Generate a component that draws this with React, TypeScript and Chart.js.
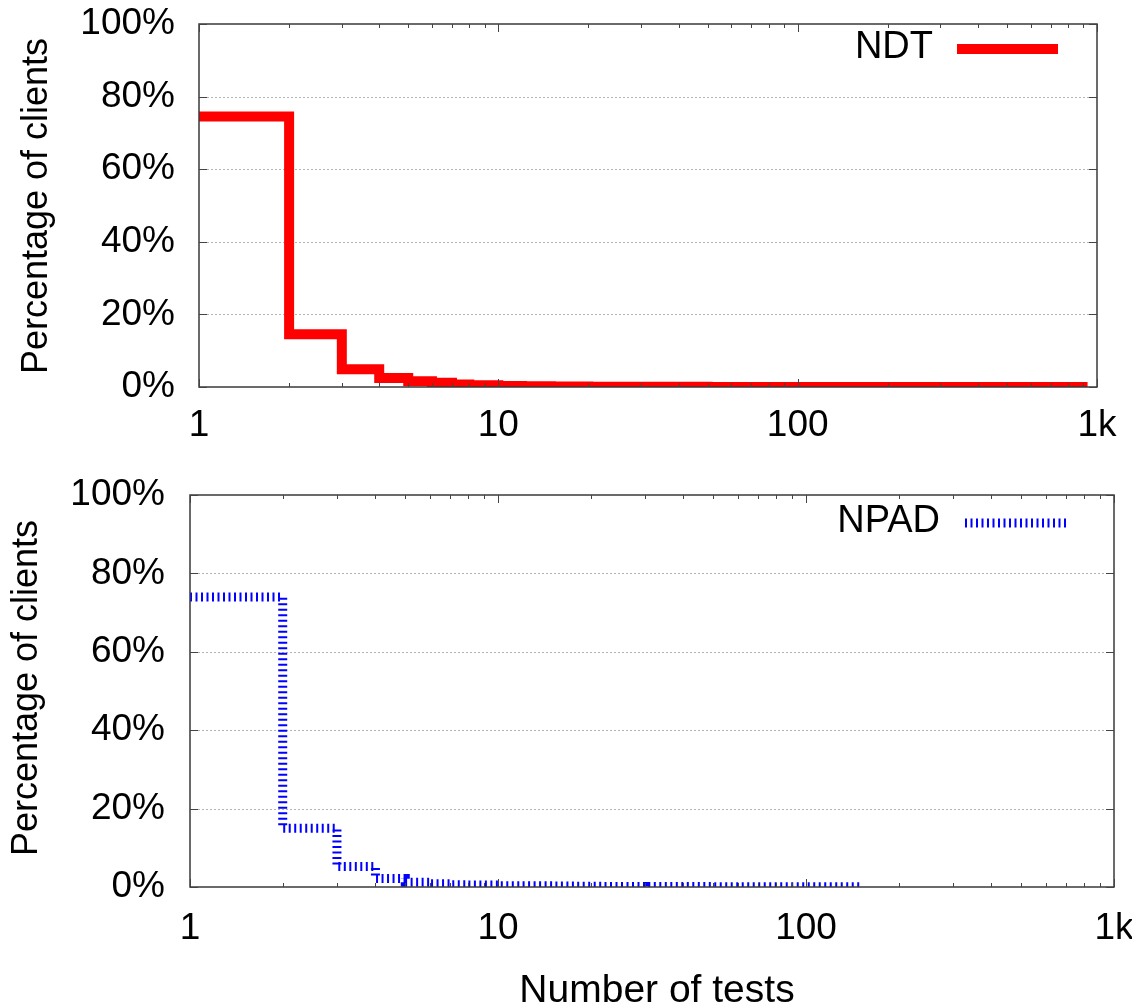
import React, { useEffect, useRef } from "react";
import { Chart, registerables } from "chart.js";

Chart.register(...registerables);

// ---- data ----
const ndtTests = [1, 2, 3, 4, 5, 6, 7, 8, 10, 12, 15, 20, 30, 50, 100, 930];
const ndtPct = [74.5, 14.5, 4.9, 2.5, 1.6, 1.15, 0.7, 0.5, 0.25, 0.2, 0.15, 0.1, 0.05, 0.03, 0.01, 0.01];

const npadTests = [1, 2, 3, 4, 5, 6, 7, 8, 10, 12, 15, 18, 22, 30, 50, 150];
const npadPct = [74, 15, 5.2, 2.2, 1.2, 0.8, 0.6, 0.5, 0.35, 0.3, 0.25, 0.2, 0.15, 0.1, 0.08, 0.08];

const xTickValues = [1, 10, 100, 1000];
const xTickLabels = ["1", "10", "100", "1k"];
const yTickValues = [0, 20, 40, 60, 80, 100];
const yGridValues = [20, 40, 60, 80];

const seriesNames = ["NDT", "NPAD"];
const yAxisTitle = "Percentage of clients";
const xAxisTitle = "Number of tests";

const FONT = "'Liberation Sans', Arial, Helvetica, sans-serif";
const W = 1132;

type Panel = {
  top: number;
  H: number;
  L: number;
  R: number;
  T: number;
  B: number;
  xs: number[];
  ys: number[];
  name: string;
  color: string;
  lw: number;
  dash: number[];
  yPad: number;
  xPad: number;
  legendTextRight: number;
  legendY: number;
  sampleX0: number;
  sampleX1: number;
  yTitleX: number;
  yTitleY: number;
  showXTitle: boolean;
};

const panels: Panel[] = [
  {
    top: 0, H: 470, L: 199, R: 1097, T: 24, B: 387,
    xs: ndtTests, ys: ndtPct, name: seriesNames[0], color: "#ff0000", lw: 10, dash: [],
    yPad: 24, xPad: 17,
    legendTextRight: 933, legendY: 48, sampleX0: 957, sampleX1: 1058,
    yTitleX: 37, yTitleY: 206, showXTitle: false,
  },
  {
    top: 470, H: 536, L: 190, R: 1114, T: 25, B: 417,
    xs: npadTests, ys: npadPct, name: seriesNames[1], color: "#0000ff", lw: 9, dash: [2, 3.5],
    yPad: 25, xPad: 20,
    legendTextRight: 940, legendY: 52, sampleX0: 965, sampleX1: 1067,
    yTitleX: 27, yTitleY: 218, showXTitle: true,
  },
];

function makePlugin(p: Panel) {
  return {
    id: "gnuFrame",
    beforeDatasetsDraw(chart: any) {
      const { ctx, chartArea } = chart;
      const ys = chart.scales.y;
      ctx.save();
      ctx.strokeStyle = "#b4b4b4";
      ctx.lineWidth = 1;
      ctx.setLineDash([2, 2]);
      for (const v of yGridValues) {
        const y = Math.round(ys.getPixelForValue(v)) + 0.5;
        ctx.beginPath();
        ctx.moveTo(chartArea.left, y);
        ctx.lineTo(chartArea.right, y);
        ctx.stroke();
      }
      ctx.restore();
    },
    afterDatasetsDraw(chart: any) {
      const { ctx, chartArea } = chart;
      const xs = chart.scales.x;
      const ys = chart.scales.y;
      const { left, right, top, bottom } = chartArea;
      ctx.save();
      ctx.setLineDash([]);
      ctx.strokeStyle = "#3a3a3a";
      ctx.lineWidth = 1.5;
      ctx.strokeRect(left, top, right - left, bottom - top);
      ctx.lineWidth = 1;
      ctx.strokeStyle = "#444";
      for (let d = 1; d <= 1000; d *= 10) {
        for (let m = 1; m <= 9; m++) {
          const v = d * m;
          if (v > 1000) break;
          const x = Math.round(xs.getPixelForValue(v)) + 0.5;
          const len = m === 1 ? 8 : 4;
          ctx.beginPath();
          ctx.moveTo(x, bottom);
          ctx.lineTo(x, bottom - len);
          ctx.moveTo(x, top);
          ctx.lineTo(x, top + len);
          ctx.stroke();
        }
      }
      for (const v of yTickValues) {
        const y = Math.round(ys.getPixelForValue(v)) + 0.5;
        ctx.beginPath();
        ctx.moveTo(left, y);
        ctx.lineTo(left + 8, y);
        ctx.moveTo(right, y);
        ctx.lineTo(right - 8, y);
        ctx.stroke();
      }
      ctx.restore();
    },
    afterDraw(chart: any) {
      const { ctx } = chart;
      ctx.save();
      ctx.fillStyle = "#000";
      ctx.font = `38px ${FONT}`;
      ctx.textAlign = "right";
      ctx.textBaseline = "middle";
      ctx.fillText(p.name, p.legendTextRight, p.legendY);
      ctx.strokeStyle = p.color;
      ctx.lineWidth = p.lw;
      ctx.lineCap = "butt";
      ctx.setLineDash(p.dash);
      ctx.beginPath();
      ctx.moveTo(p.sampleX0, p.legendY + 1);
      ctx.lineTo(p.sampleX1, p.legendY + 1);
      ctx.stroke();
      ctx.setLineDash([]);
      ctx.save();
      ctx.translate(p.yTitleX, p.yTitleY);
      ctx.rotate(-Math.PI / 2);
      ctx.textAlign = "center";
      ctx.textBaseline = "middle";
      ctx.font = `36px ${FONT}`;
      ctx.fillText(yAxisTitle, 0, 0);
      ctx.restore();
      if (p.showXTitle) {
        ctx.textAlign = "center";
        ctx.textBaseline = "alphabetic";
        ctx.font = `39px ${FONT}`;
        ctx.fillText(xAxisTitle, 657, 532);
      }
      ctx.restore();
    },
  };
}

function makeChart(canvas: HTMLCanvasElement, p: Panel) {
  return new Chart(canvas, {
    type: "line",
    data: {
      datasets: [
        {
          label: p.name,
          data: p.xs.map((x, i) => ({ x, y: p.ys[i] })),
          borderColor: p.color,
          backgroundColor: p.color,
          borderWidth: p.lw,
          borderDash: p.dash,
          borderCapStyle: "butt",
          borderJoinStyle: "miter",
          stepped: "before",
          pointRadius: 0,
          fill: false,
        } as any,
      ],
    },
    options: {
      responsive: false,
      animation: false,
      devicePixelRatio: 1,
      events: [],
      layout: { padding: { top: p.T, right: W - p.R, left: 0, bottom: 0 } },
      plugins: { legend: { display: false }, tooltip: { enabled: false }, title: { display: false } },
      scales: {
        x: {
          type: "logarithmic",
          min: 1,
          max: 1000,
          grid: { display: false, drawTicks: false },
          border: { display: false },
          afterBuildTicks: (s: any) => {
            s.ticks = xTickValues.map((v) => ({ value: v }));
          },
          afterFit: (s: any) => {
            s.height = p.H - p.B;
            s.paddingLeft = 0;
            s.paddingRight = 0;
          },
          ticks: {
            autoSkip: false,
            maxRotation: 0,
            minRotation: 0,
            padding: p.xPad,
            color: "#000",
            font: { family: FONT, size: 37 },
            callback: (v: any) => {
              const i = xTickValues.indexOf(Number(v));
              return i >= 0 ? xTickLabels[i] : "";
            },
          },
        },
        y: {
          type: "linear",
          min: 0,
          max: 100,
          grid: { display: false, drawTicks: false },
          border: { display: false },
          afterBuildTicks: (s: any) => {
            s.ticks = yTickValues.map((v) => ({ value: v }));
          },
          afterFit: (s: any) => {
            s.width = p.L;
            s.paddingTop = 0;
            s.paddingBottom = 0;
          },
          ticks: {
            padding: p.yPad,
            color: "#000",
            font: { family: FONT, size: 37 },
            callback: (v: any) => `${v}%`,
          },
        },
      } as any,
    },
    plugins: [makePlugin(p)],
  });
}

function PanelCanvas({ p }: { p: Panel }) {
  const ref = useRef<HTMLCanvasElement | null>(null);
  useEffect(() => {
    if (!ref.current) return;
    const chart = makeChart(ref.current, p);
    return () => chart.destroy();
  }, []);
  return (
    <canvas
      ref={ref}
      width={W}
      height={p.H}
      style={{ position: "absolute", left: 0, top: p.top, width: W, height: p.H }}
    />
  );
}

export default function App() {
  return (
    <div style={{ position: "absolute", left: 0, top: 0, width: W, height: 1006, background: "#fff", overflow: "hidden" }}>
      {panels.map((p, i) => (
        <PanelCanvas key={i} p={p} />
      ))}
    </div>
  );
}
